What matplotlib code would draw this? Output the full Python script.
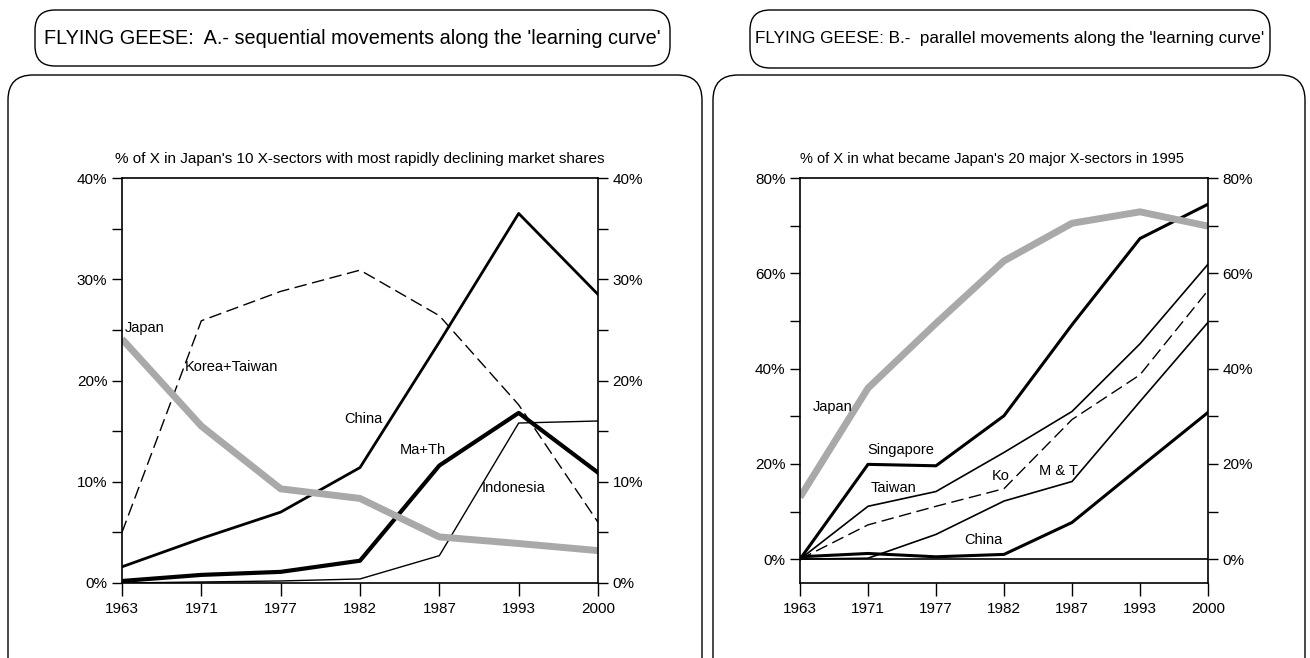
import numpy as np
import matplotlib
matplotlib.use("Agg")
import matplotlib.pyplot as plt
from matplotlib.patches import FancyBboxPatch
from matplotlib import font_manager
from matplotlib.ticker import MultipleLocator, FuncFormatter

# narrow helvetica-like face if available
names = {f.name for f in font_manager.fontManager.ttflist}
FAM = ['Liberation Sans Narrow', 'Liberation Sans', 'DejaVu Sans'] if 'Liberation Sans Narrow' in names else ['Liberation Sans', 'DejaVu Sans']
plt.rcParams['font.family'] = FAM

years = ['1963', '1971', '1977', '1982', '1987', '1993', '2000']

# panel A: % of X in Japan's 10 sectors with most rapidly declining shares
a_japan = [24.1, 15.5, 9.3, 8.35, 4.55, 3.9, 3.2]
a_korea_taiwan = [5.0, 25.9, 28.8, 30.9, 26.4, 17.6, 6.0]
a_china = [1.6, 4.4, 7.0, 11.4, 23.8, 36.5, 28.5]
a_ma_th = [0.2, 0.8, 1.1, 2.2, 11.6, 16.8, 10.9]
a_indonesia = [0.0, 0.1, 0.2, 0.4, 2.7, 15.8, 16.0]

# panel B: % of X in what became Japan's 20 major sectors in 1995
b_japan = [13.0, 35.9, 49.5, 62.6, 70.5, 72.9, 69.9]
b_singapore = [0.0, 19.9, 19.6, 30.1, 49.2, 67.3, 74.5]
b_taiwan = [0.0, 11.1, 14.2, 22.4, 31.0, 45.2, 61.9]
b_korea = [0.0, 7.2, 11.1, 14.8, 29.3, 38.7, 56.4]
b_m_t = [0.0, 0.2, 5.2, 12.2, 16.3, 33.1, 49.7]
b_china = [0.5, 1.2, 0.5, 1.0, 7.7, 19.3, 30.8]

GRAY = '#a9a9a9'
W, H = 1310, 658
fig = plt.figure(figsize=(W / 100, H / 100), dpi=100)


def box(x0, y0, x1, y1, r=0.2, lw=1.0):
    # pixel coords from the top-left corner, drawn in inches
    p = FancyBboxPatch((x0 / 100, (H - y1) / 100), (x1 - x0) / 100, (y1 - y0) / 100,
                       boxstyle=f"round,pad=0,rounding_size={r}",
                       transform=fig.dpi_scale_trans, fc='none', ec='black', lw=lw)
    fig.patches.append(p)


box(35, 10, 670, 66)
box(750, 10, 1270, 68)
box(8, 75, 702, 690, r=0.25)
box(713, 75, 1305, 690, r=0.25)
fig.text(352 / W, 1 - 38 / H, "FLYING GEESE:  A.- sequential movements along the 'learning curve'",
         ha='center', va='center', fontsize=14.3)
fig.text(1010 / W, 1 - 39 / H, "FLYING GEESE: B.-  parallel movements along the 'learning curve'",
         ha='center', va='center', fontsize=12.3)

pct = FuncFormatter(lambda v, p: f"{v:.0f}%")


def setup(ax, lo, hi, major, minor):
    x = np.arange(len(years))
    ax.set_xlim(0, len(years) - 1)
    ax.set_ylim(lo, hi)
    ax.set_xticks(x)
    ax.set_xticklabels(years)
    ax.yaxis.set_major_locator(MultipleLocator(major))
    ax.yaxis.set_minor_locator(MultipleLocator(minor))
    ax.yaxis.set_major_formatter(pct)
    ax.tick_params(axis='both', which='both', direction='out', labelsize=11,
                   right=True, labelright=True, width=1)
    ax.tick_params(axis='y', which='major', length=7)
    ax.tick_params(axis='y', which='minor', length=7)
    ax.tick_params(axis='x', length=9, pad=5)
    for s in ax.spines.values():
        s.set_linewidth(1.2)
    return x


axA = fig.add_axes([122 / W, 1 - 583 / H, 476 / W, 405 / H])
x = setup(axA, 0, 40, 10, 5)
axA.plot(x, a_indonesia, color='black', lw=1.0)
axA.plot(x, a_korea_taiwan, color='black', lw=1.0, dashes=(9, 4))
axA.plot(x, a_china, color='black', lw=2.0)
axA.plot(x, a_ma_th, color='black', lw=3.0)
axA.plot(x, a_japan, color=GRAY, lw=5.0, solid_capstyle='butt')
axA.text(0.5, 1.03, "% of X in Japan's 10 X-sectors with most rapidly declining market shares",
         transform=axA.transAxes, ha='center', va='bottom', fontsize=11)
for txt, xx, yy in [('Japan', 0.29, 25.2), ('Korea+Taiwan', 1.38, 21.3), ('China', 3.04, 16.2),
                    ('Ma+Th', 3.79, 13.1), ('Indonesia', 4.93, 9.4)]:
    axA.text(xx, yy, txt, ha='center', va='center', fontsize=10.5)

axB = fig.add_axes([800 / W, 1 - 583 / H, 408 / W, 405 / H])
x = setup(axB, -5, 80, 20, 10)
axB.axhline(0, color='black', lw=1.2)
axB.plot(x, b_m_t, color='black', lw=1.2)
axB.plot(x, b_taiwan, color='black', lw=1.2)
axB.plot(x, b_korea, color='black', lw=1.0, dashes=(9, 4))
axB.plot(x, b_china, color='black', lw=2.2)
axB.plot(x, b_singapore, color='black', lw=2.2)
axB.plot(x, b_japan, color=GRAY, lw=5.0, solid_capstyle='butt')
axB.text(0.0, 1.03, "% of X in what became Japan's 20 major X-sectors in 1995",
         transform=axB.transAxes, ha='left', va='bottom', fontsize=10.5)
for txt, xx, yy in [('Japan', 0.48, 32.0), ('Singapore', 1.48, 23.0), ('Taiwan', 1.37, 15.0),
                    ('Ko', 2.95, 17.4), ('M & T', 3.80, 18.6), ('China', 2.70, 4.0)]:
    axB.text(xx, yy, txt, ha='center', va='center', fontsize=10.5)

fig.savefig('out.png', dpi=100)
